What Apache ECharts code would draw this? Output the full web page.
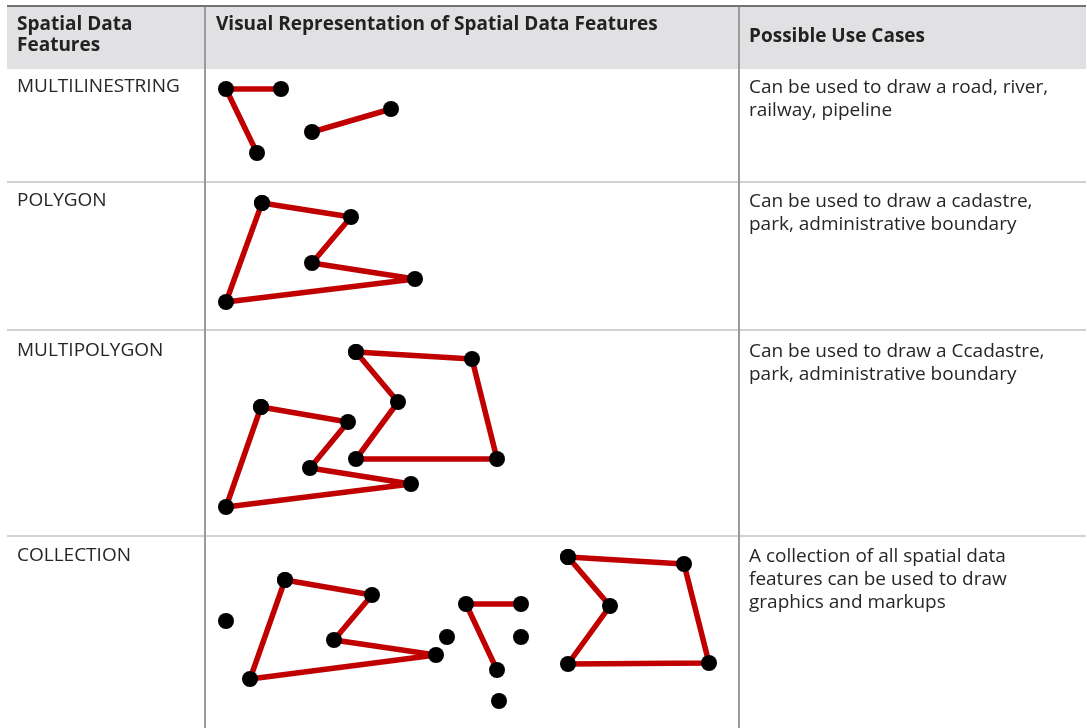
<!DOCTYPE html>
<html>
<head>
<meta charset="utf-8">
<script src="https://cdn.jsdelivr.net/npm/echarts@6/dist/echarts.min.js"></script>
<style>
html,body{margin:0;padding:0;background:#fff;}
#chart{width:1087px;height:728px;}
</style>
</head>
<body>
<div id="chart"></div>
<script>
// ---- Table text ----
const headers = ["Spatial Data\nFeatures", "Visual Representation of Spatial Data Features", "Possible Use Cases"];
const categories = ["MULTILINESTRING", "POLYGON", "MULTIPOLYGON", "COLLECTION"];
const useCases = [
  "Can be used to draw a road, river,\nrailway, pipeline",
  "Can be used to draw a cadastre,\npark, administrative boundary",
  "Can be used to draw a Ccadastre,\npark, administrative boundary",
  "A collection of all spatial data\nfeatures can be used to draw\ngraphics and markups"
];

// ---- Shape vertices (drawing units) ----
const multiLineA = [[281, 89], [226, 89], [257, 153]];
const multiLineB = [[312, 132], [391, 109]];
const polygonA = [[262, 203], [351, 217], [312, 263], [415, 279], [226, 302]];
const multiPolyA = [[261, 407], [348, 422], [310, 468], [411, 484], [226, 507]];
const multiPolyB = [[356, 352], [472, 359], [497, 459], [356, 459], [398, 402]];
const collPolyA = [[285, 580], [372, 595], [334, 640], [436, 655], [250, 679]];
const collPolyB = [[568, 557], [684, 564], [709, 663], [568, 664], [610, 606]];
const collLine = [[521, 604], [466, 604], [497, 670]];
const collPoints = [[226, 621], [447, 637], [521, 637], [499, 701]];

const W = 1087, H = 728;
const rowTops = [69, 182, 330, 536];
const colX = [7, 205, 739, 1086];

const RED = '#c00000';
function lineSeries(pts, closed) {
  const d = closed ? pts.concat([pts[0]]) : pts;
  return {
    type: 'line', data: d, symbol: 'circle', symbolSize: 16, showSymbol: true, showAllSymbol: true,
    itemStyle: { color: '#000', opacity: 1 }, lineStyle: { color: RED, width: 5.5 }, silent: true, z: 3,
    emphasis: { disabled: true }
  };
}

const font = '"Open Sans", "Noto Sans", sans-serif';
const graphics = [];
// header background
graphics.push({ type: 'rect', shape: { x: colX[0], y: 7, width: colX[3] - colX[0], height: rowTops[0] - 7 }, style: { fill: '#e1e1e3' }, z: 0 });
// top border
graphics.push({ type: 'rect', shape: { x: colX[0], y: 5, width: colX[3] - colX[0], height: 2 }, style: { fill: '#737373' }, z: 1 });
// row separators
rowTops.slice(1).forEach(y => {
  graphics.push({ type: 'rect', shape: { x: colX[0], y: y - 1, width: colX[3] - colX[0], height: 2 }, style: { fill: '#d2d2d2' }, z: 1 });
});
// column separators
[colX[1], colX[2]].forEach(x => {
  graphics.push({ type: 'rect', shape: { x: x - 1, y: 7, width: 2, height: H - 7 }, style: { fill: '#9a9a9a' }, z: 1 });
});
// header texts
const headerPos = [[17, 14], [216, 14], [749, 26]];
headers.forEach((t, i) => {
  graphics.push({ type: 'text', x: headerPos[i][0], y: headerPos[i][1], z: 2,
    style: { text: t, font: 'bold 19px ' + font, fill: '#222', lineHeight: 21, align: 'left', verticalAlign: 'top' } });
});
// body texts
const catY = [75, 189, 339, 544];
categories.forEach((t, i) => {
  graphics.push({ type: 'text', x: 17, y: catY[i], z: 2,
    style: { text: t, font: '19px ' + font, fill: '#262626', align: 'left', verticalAlign: 'top', lineHeight: 23 } });
  graphics.push({ type: 'text', x: 749, y: catY[i] + 1, z: 2,
    style: { text: useCases[i], font: '19px ' + font, fill: '#262626', align: 'left', verticalAlign: 'top', lineHeight: 23 } });
});

const chart = echarts.init(document.getElementById('chart'), null, { renderer: 'canvas' });
chart.setOption({
  animation: false,
  backgroundColor: '#fff',
  grid: { left: 0, top: 0, right: 0, bottom: 0, containLabel: false },
  xAxis: { type: 'value', min: 0, max: W, show: false, splitLine: { show: false } },
  yAxis: { type: 'value', min: 0, max: H, inverse: true, show: false, splitLine: { show: false } },
  graphic: graphics,
  series: [
    lineSeries(multiLineA, false),
    lineSeries(multiLineB, false),
    lineSeries(polygonA, true),
    lineSeries(multiPolyA, true),
    lineSeries(multiPolyB, true),
    lineSeries(collPolyA, true),
    lineSeries(collPolyB, true),
    lineSeries(collLine, false),
    { type: 'scatter', data: collPoints, symbol: 'circle', symbolSize: 16, itemStyle: { color: '#000', opacity: 1 }, silent: true, z: 4 }
  ]
});
</script>
</body>
</html>
